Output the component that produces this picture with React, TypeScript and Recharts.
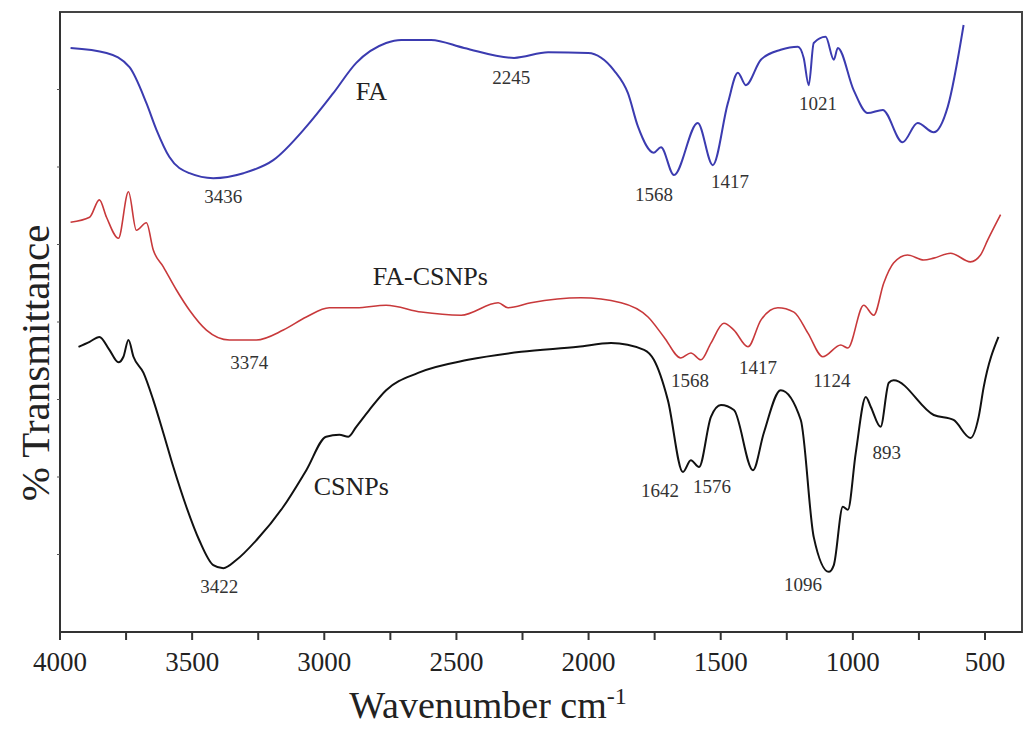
import React from "react";
import { ComposedChart, Line, XAxis, YAxis, Scatter, Label, ReferenceArea } from "recharts";

// FA spectrum (wavenumber cm-1, % transmittance, offset)
const faW = [3960, 3824, 3737, 3673, 3635, 3586, 3510, 3420, 3306, 3193, 3068, 2966, 2879, 2766, 2709, 2596, 2471, 2282, 2153, 2002, 1904, 1851, 1813, 1753, 1726, 1677, 1587, 1530, 1473, 1435, 1405, 1348, 1273, 1208, 1186, 1167, 1148, 1103, 1072, 1057, 997, 944, 887, 812, 755, 694, 641, 581];
const faT = [94.2, 93.4, 91.1, 85.3, 81.0, 76.6, 74.0, 73.2, 74.0, 76.1, 81.5, 86.9, 91.8, 95.0, 95.5, 95.5, 94.2, 92.6, 93.5, 93.4, 90.6, 86.9, 81.5, 77.3, 78.2, 73.7, 82.1, 75.3, 85.3, 90.2, 88.2, 92.3, 93.9, 94.4, 92.6, 88.2, 95.0, 96.0, 92.3, 94.2, 87.4, 83.7, 84.2, 79.0, 82.1, 80.6, 84.7, 97.9];

// FA-CSNPs spectrum
const facsW = [3960, 3888, 3851, 3824, 3779, 3741, 3711, 3673, 3647, 3609, 3560, 3510, 3446, 3359, 3257, 3155, 3068, 2981, 2879, 2766, 2633, 2482, 2342, 2305, 2218, 2029, 1877, 1775, 1715, 1651, 1613, 1575, 1537, 1488, 1450, 1397, 1348, 1284, 1223, 1170, 1114, 1046, 1019, 959, 921, 883, 846, 793, 732, 694, 630, 555, 517, 490, 441];
const facsT = [66.1, 66.9, 69.7, 66.9, 63.5, 71.0, 64.8, 66.0, 61.6, 58.9, 55.2, 51.9, 48.7, 47.1, 47.1, 48.7, 50.8, 52.3, 52.3, 52.7, 51.6, 51.1, 53.1, 52.3, 53.1, 53.9, 53.1, 50.8, 47.6, 44.2, 45.0, 43.9, 46.6, 49.8, 48.7, 46.0, 50.3, 52.3, 51.6, 48.2, 44.4, 46.3, 45.8, 52.7, 51.1, 56.3, 59.5, 60.8, 60.0, 60.3, 61.1, 59.7, 60.8, 63.2, 67.3];

// CSNPs spectrum
const csW = [3930, 3888, 3851, 3813, 3779, 3760, 3741, 3722, 3684, 3647, 3609, 3571, 3522, 3473, 3420, 3382, 3333, 3257, 3155, 3068, 2993, 2943, 2909, 2879, 2830, 2766, 2645, 2456, 2255, 2040, 1915, 1790, 1753, 1700, 1643, 1613, 1582, 1537, 1499, 1450, 1378, 1337, 1273, 1197, 1148, 1091, 1072, 1038, 1019, 989, 951, 932, 895, 864, 846, 694, 619, 555, 524, 505, 449];
const csT = [46.0, 46.8, 47.6, 45.5, 43.5, 44.4, 47.1, 44.4, 41.8, 37.4, 32.1, 26.6, 20.2, 14.8, 10.8, 10.3, 11.6, 14.8, 20.2, 26.1, 31.5, 31.8, 31.5, 33.1, 35.8, 39.0, 41.8, 43.9, 45.2, 46.0, 46.6, 45.5, 43.9, 37.4, 25.8, 27.7, 26.6, 34.7, 36.6, 35.8, 26.1, 32.1, 39.0, 34.2, 15.3, 9.7, 10.8, 20.2, 19.7, 28.9, 37.9, 36.3, 33.1, 40.2, 40.6, 35.0, 34.2, 31.3, 34.7, 39.5, 47.6];

// Series name labels
const seriesNames = ["FA", "FA-CSNPs", "CSNPs"];
const seriesNameW = [2822, 2599, 2898];
const seriesNameT = [87.1, 57.3, 23.4];

// Peak annotations
const peakTexts = ["3436", "2245", "1568", "1417", "1021", "3374", "1568", "1417", "1124", "1642", "1576", "893", "1096", "3422"];
const peakW = [3382, 2293, 1752, 1465, 1132, 3284, 1616, 1359, 1079, 1730, 1533, 872, 1189, 3397];
const peakT = [70.2, 89.4, 70.5, 72.6, 85.2, 43.5, 40.6, 42.6, 40.6, 22.9, 23.4, 29.0, 7.7, 7.4];

// Axis ticks
const xTicks = [4000, 3750, 3500, 3250, 3000, 2750, 2500, 2250, 2000, 1750, 1500, 1250, 1000, 750, 500];
const yTicks = [12.5, 25, 37.5, 50, 62.5, 75, 87.5];
const xDomain = [360, 4000];
const yDomain = [0, 100];

const zip = (w: number[], t: number[]) => w.map((x, i) => ({ w: x, t: t[i] }));
const faData = zip(faW, faT);
const facsData = zip(facsW, facsT);
const csData = zip(csW, csT);
const nameData = seriesNames.map((s, i) => ({ w: seriesNameW[i], t: seriesNameT[i], label: s }));
const peakData = peakTexts.map((s, i) => ({ w: peakW[i], t: peakT[i], label: s }));

const FONT = "'Liberation Serif', 'Times New Roman', serif";

const NameShape = (p: any) => (
  <text x={p.cx} y={p.cy} textAnchor="middle" dominantBaseline="central" fontFamily={FONT} fontSize={26} fill="#222">
    {p.payload.label}
  </text>
);
const PeakShape = (p: any) => (
  <text x={p.cx} y={p.cy} textAnchor="middle" dominantBaseline="central" fontFamily={FONT} fontSize={19} fill="#333">
    {p.payload.label}
  </text>
);

const XTitle = (props: any) => {
  const vb = props.viewBox || {};
  const cx = vb.x + vb.width / 2 - 53;
  return (
    <text x={cx} y={vb.y + 86} textAnchor="middle" fontFamily={FONT} fontSize={38} fill="#222">
      Wavenumber cm
      <tspan fontSize={24} dy={-14}>-1</tspan>
    </text>
  );
};
const YTitle = (props: any) => {
  const vb = props.viewBox || {};
  const cx = 35;
  const cy = vb.y + vb.height / 2 + 41;
  return (
    <text x={cx} y={cy} textAnchor="middle" dominantBaseline="central" transform={`rotate(-90 ${cx} ${cy})`} fontFamily={FONT} fontSize={41} fill="#222">
      % Transmittance
    </text>
  );
};

export default function App() {
  return (
    <div style={{ width: 1029, height: 733, background: "#fff" }}>
      <style>{"body{margin:0;background:#fff}"}</style>
      <ComposedChart width={1029} height={733} margin={{ top: 12, right: 7, bottom: 0, left: 0 }}>
        <XAxis
          xAxisId="b"
          type="number"
          dataKey="w"
          domain={xDomain}
          reversed
          allowDataOverflow
          ticks={xTicks}
          interval={0}
          tickFormatter={(v: number) => (v % 500 === 0 ? String(v) : "")}
          height={101}
          axisLine={{ stroke: "#333", strokeWidth: 2 }}
          tickLine={{ stroke: "#333", strokeWidth: 2 }}
          tickSize={8}
          tick={{ fontFamily: FONT, fontSize: 27, fill: "#222", dy: 10 }}
        >
          <Label content={<XTitle />} />
        </XAxis>
        <YAxis
          yAxisId="l"
          type="number"
          domain={yDomain}
          allowDataOverflow
          ticks={yTicks}
          width={60}
          tickFormatter={() => ""}
          axisLine={{ stroke: "#333", strokeWidth: 2 }}
          tickLine={{ stroke: "#555" }}
          tickSize={3}
        >
          <Label content={<YTitle />} />
        </YAxis>
        <ReferenceArea
          xAxisId="b"
          yAxisId="l"
          x1={xDomain[1]}
          x2={xDomain[0]}
          y1={yDomain[0]}
          y2={yDomain[1]}
          fill="none"
          fillOpacity={0}
          stroke="#444"
          strokeWidth={2}
          ifOverflow="visible"
        />
        <Line xAxisId="b" yAxisId="l" data={faData} dataKey="t" type="monotone" stroke="#3b3bb0" strokeWidth={2} dot={false} isAnimationActive={false} />
        <Line xAxisId="b" yAxisId="l" data={facsData} dataKey="t" type="monotone" stroke="#c8393b" strokeWidth={1.6} dot={false} isAnimationActive={false} />
        <Line xAxisId="b" yAxisId="l" data={csData} dataKey="t" type="monotone" stroke="#111" strokeWidth={2} dot={false} isAnimationActive={false} />
        <Scatter xAxisId="b" yAxisId="l" data={nameData} dataKey="t" shape={NameShape} isAnimationActive={false} />
        <Scatter xAxisId="b" yAxisId="l" data={peakData} dataKey="t" shape={PeakShape} isAnimationActive={false} />
      </ComposedChart>
    </div>
  );
}
